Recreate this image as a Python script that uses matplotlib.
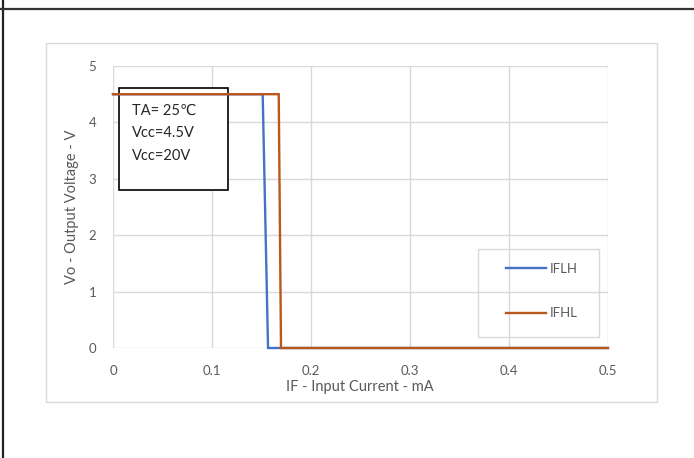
import matplotlib
matplotlib.use("Agg")
import matplotlib.pyplot as plt
from matplotlib.patches import Rectangle
from matplotlib.lines import Line2D

# ---- data ----
iflh_x = [0.0, 0.1512, 0.1566, 0.5]
iflh_y = [4.5, 4.5, 0.0, 0.0]
ifhl_x = [0.0, 0.1674, 0.1697, 0.5]
ifhl_y = [4.5, 4.5, 0.0, 0.0]
x_ticks = [0, 0.1, 0.2, 0.3, 0.4, 0.5]
x_tick_labels = ["0", "0.1", "0.2", "0.3", "0.4", "0.5"]
y_ticks = [0, 1, 2, 3, 4, 5]
note_lines = ["TA= 25℃", "Vcc=4.5V", "Vcc=20V"]

W, H = 694, 458
FONT = ["Lato", "DejaVu Sans"]
plt.rcParams["font.family"] = FONT

BLUE = "#4472C4"
ORANGE = "#BA581C"
GRID = "#D9D9D9"
TXT = "#595959"

fig = plt.figure(figsize=(W / 100, H / 100), dpi=100)


def fx(px):
    return px / W


def fy(py):
    return 1 - py / H


# outer frame of the document (left and top rules)
fig.add_artist(Line2D([fx(2.5), fx(2.5)], [0, 1], color="#222222", lw=1.6))
fig.add_artist(Line2D([0, 1], [fy(9), fy(9)], color="#333333", lw=1.6))

# chart area border
fig.add_artist(Rectangle((fx(46), fy(402)), fx(657) - fx(46), fy(43) - fy(402),
                         fill=False, edgecolor=GRID, lw=1.0))

ax = fig.add_axes([fx(113), fy(348), fx(608) - fx(113), fy(66) - fy(348)])
ax.set_xlim(0, 0.5)
ax.set_ylim(0, 5)
for s in ax.spines.values():
    s.set_visible(False)
ax.set_xticks(x_ticks)
ax.set_xticklabels(x_tick_labels)
ax.set_yticks(y_ticks)
ax.tick_params(length=0, colors=TXT, labelsize=9.5)
ax.tick_params(axis="y", pad=12)
ax.tick_params(axis="x", pad=12)
ax.grid(True, color=GRID, lw=1.0)
ax.set_axisbelow(True)

# condition note box: white fill hides the grid, curves stay on top
ax.add_patch(Rectangle((fx(119), fy(190)), fx(228) - fx(119), fy(88) - fy(190),
                       transform=fig.transFigure, facecolor="white",
                       edgecolor="black", lw=1.2, zorder=1.5, clip_on=False))

ax.plot(iflh_x, iflh_y, color=BLUE, lw=1.7, label="IFLH", clip_on=False,
        solid_joinstyle="miter", zorder=2)
ax.plot(ifhl_x, ifhl_y, color=ORANGE, lw=1.7, label="IFHL", clip_on=False,
        solid_joinstyle="miter", zorder=2)

for i, line in enumerate(note_lines):
    fig.text(fx(132), fy(111 + 22.5 * i), line, fontsize=10.5, color="#262626",
             va="center", ha="left", family=FONT)

# legend: frame drawn separately, entries placed inside it
fig.add_artist(Rectangle((fx(478), fy(337)), fx(599) - fx(478), fy(249) - fy(337),
                         fill=False, edgecolor=GRID, lw=1.0))
leg = ax.legend(loc="upper left", bbox_to_anchor=(fx(506), fy(263)),
                bbox_transform=fig.transFigure, frameon=False, fontsize=9.5,
                handlelength=3.0, handletextpad=0.35, labelspacing=2.45,
                borderpad=0, borderaxespad=0)
for t in leg.get_texts():
    t.set_color(TXT)

fig.text(fx(72), fy(207), "Vo - Output Voltage - V", rotation=90, fontsize=10.5,
         color=TXT, ha="center", va="center")
fig.text(fx(360), fy(387), "IF - Input Current - mA", fontsize=10.5,
         color=TXT, ha="center", va="center")

fig.savefig("out.png", dpi=100)
